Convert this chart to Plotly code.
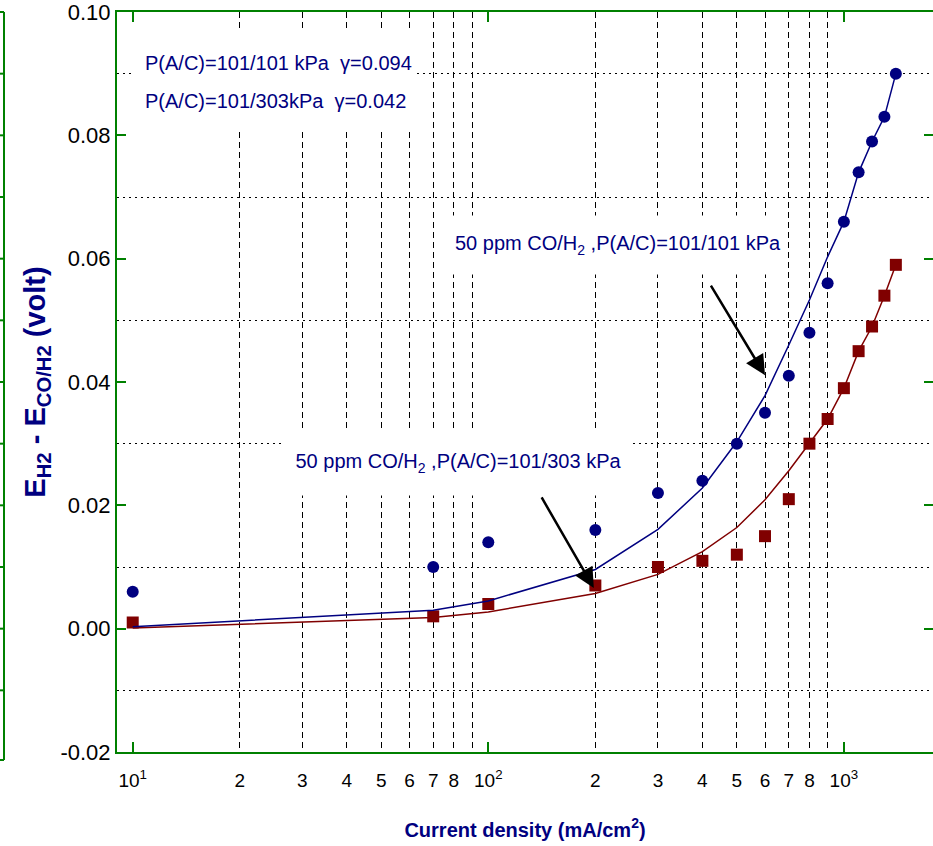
import math
import plotly.graph_objects as go

# Measured CO-poisoning overpotential vs current density
current_density = [10, 70, 100, 200, 300, 400, 500, 600, 700, 800, 900, 1000, 1100, 1200, 1300, 1400]
dE_101_101 = [0.006, 0.010, 0.014, 0.016, 0.022, 0.024, 0.030, 0.035, 0.041, 0.048,
              0.056, 0.066, 0.074, 0.079, 0.083, 0.090]
dE_101_303 = [0.001, 0.002, 0.004, 0.007, 0.010, 0.011, 0.012, 0.015, 0.021, 0.030,
              0.034, 0.039, 0.045, 0.049, 0.054, 0.059]
# Model curves evaluated at the same current densities
fit_101_101 = [0.0003, 0.0030, 0.0045, 0.0096, 0.0161, 0.0228, 0.0303, 0.0378, 0.0460, 0.0533,
               0.0603, 0.066, 0.074, 0.079, 0.083, 0.090]
fit_101_303 = [0.0001, 0.0018, 0.0027, 0.0057, 0.0088, 0.0125, 0.0164, 0.0209, 0.0256, 0.030,
               0.034, 0.039, 0.045, 0.049, 0.054, 0.059]

decades = [10, 100, 1000]
decade_labels = ["10<sup>1</sup>", "10<sup>2</sup>", "10<sup>3</sup>"]
minor_x = [m * d for d in (10, 100) for m in range(2, 10)]
labelled_minor_x = [m * d for d in (10, 100) for m in range(2, 9)]
labelled_minor_text = [str(m) for d in (10, 100) for m in range(2, 9)]
y_ticks = [-0.02, 0.00, 0.02, 0.04, 0.06, 0.08, 0.10]
y_tick_labels = ["-0.02", "0.00", "0.02", "0.04", "0.06", "0.08", "0.10"]
y_dotted = [-0.01, 0.01, 0.03, 0.05, 0.07, 0.09]

legend_lines = ["P(A/C)=101/101 kPa  \u03b3=0.094", "P(A/C)=101/303kPa  \u03b3=0.042"]
note_101 = "50 ppm CO/H<sub>2</sub> ,P(A/C)=101/101 kPa"
note_303 = "50 ppm CO/H<sub>2</sub> ,P(A/C)=101/303 kPa"

NAVY = "#000080"
MAROON = "#800000"
GREEN = "#008000"
FONT = "Liberation Sans, Arial, sans-serif"

W, H = 933, 846
ML, MR, MT, MB = 117, 0, 12, 94
x_lo, x_hi = 0.9558, 3.2506
y_lo, y_hi = -0.020001, 0.100001


def px_to_paper_x(p):
    return (p - ML) / (W - ML - MR)


def px_to_paper_y(p):
    return (H - MB - p) / (H - MT - MB)


fig = go.Figure()

fig.add_trace(go.Scatter(x=current_density, y=fit_101_101, mode="lines",
                         line=dict(color=NAVY, width=1.5), xaxis="x2", yaxis="y",
                         showlegend=False, hoverinfo="skip"))
fig.add_trace(go.Scatter(x=current_density, y=fit_101_303, mode="lines",
                         line=dict(color=MAROON, width=1.5), xaxis="x", yaxis="y2",
                         showlegend=False, hoverinfo="skip"))
fig.add_trace(go.Scatter(x=current_density, y=dE_101_101, mode="markers",
                         marker=dict(symbol="circle", size=12, color=NAVY),
                         showlegend=False))
fig.add_trace(go.Scatter(x=current_density, y=dE_101_303, mode="markers",
                         marker=dict(symbol="square", size=12, color=MAROON),
                         showlegend=False))

fig.update_layout(
    width=W, height=H,
    margin=dict(l=ML, r=MR, t=MT, b=MB, pad=0),
    paper_bgcolor="white", plot_bgcolor="white",
    font=dict(family=FONT, size=20, color="black"),
    xaxis=dict(
        type="log", range=[x_lo, x_hi],
        tickmode="array", tickvals=decades + labelled_minor_x,
        ticktext=decade_labels + labelled_minor_text,
        ticks="", showgrid=False, zeroline=False,
        showline=True, linecolor=GREEN, linewidth=2, mirror=True,
        ticklabelstandoff=10, tickfont=dict(size=19), ticklabeloverflow="allow",
        minor=dict(tickmode="array", tickvals=minor_x, ticks="", showgrid=True,
                   gridcolor="black", gridwidth=1, griddash="6px,4px"),
        title=dict(text="<b>Current density (mA/cm<sup>2</sup>)</b>",
                   font=dict(family=FONT, size=20, color=NAVY), standoff=33),
    ),
    xaxis2=dict(
        type="log", range=[x_lo, x_hi], overlaying="x", matches="x", anchor="y",
        tickmode="array", tickvals=decades, ticks="inside", ticklen=10, tickwidth=2,
        tickcolor=GREEN, showticklabels=False, showgrid=False, showline=False,
        mirror="ticks", zeroline=False,
    ),
    yaxis=dict(
        range=[y_lo, y_hi], tickmode="array", tickvals=y_ticks, ticktext=y_tick_labels,
        ticks="inside", ticklen=9, tickwidth=2, tickcolor=GREEN,
        showline=True, linecolor=GREEN, linewidth=2, mirror=False,
        showgrid=False, zeroline=False, ticklabelstandoff=0, tickfont=dict(size=22),
        ticklabeloverflow="allow",
        minor=dict(tickmode="array", tickvals=y_dotted, ticks="", showgrid=True,
                   gridcolor="black", gridwidth=1, griddash="2px,4px"),
        title=dict(text="<b>E<sub>H2</sub> - E<sub>CO/H2</sub> (volt)</b>",
                   font=dict(family=FONT, size=29, color=NAVY), standoff=6),
    ),
    yaxis2=dict(
        range=[y_lo, y_hi], overlaying="y", matches="y", side="right", anchor="x",
        tickmode="array", tickvals=y_ticks, ticks="inside", ticklen=9, tickwidth=2,
        tickcolor=GREEN, showticklabels=False, showgrid=False, showline=False,
        zeroline=False,
    ),
)

# White box behind the parameter list
shapes = [
    dict(type="rect", xref="paper", yref="paper", layer="above",
         x0=px_to_paper_x(133), x1=px_to_paper_x(415),
         y0=px_to_paper_y(128), y1=px_to_paper_y(30),
         fillcolor="white", line=dict(width=0)),
]

# Frame edge of the neighbouring panel at the far left
frame_x = px_to_paper_x(4)
shapes.append(dict(type="line", xref="paper", yref="paper", x0=frame_x, x1=frame_x,
                   y0=px_to_paper_y(760), y1=1.0, line=dict(color=GREEN, width=2)))
for yy in (px_to_paper_y(760), 1.0):
    shapes.append(dict(type="line", xref="paper", yref="paper", x0=px_to_paper_x(0),
                       x1=frame_x, y0=yy, y1=yy, line=dict(color=GREEN, width=2)))
for v in [0.09, 0.08, 0.07, 0.06, 0.05, 0.04, 0.03, 0.02, 0.01, 0.00, -0.01]:
    shapes.append(dict(type="line", xref="paper", yref="y", x0=px_to_paper_x(0),
                       x1=frame_x, y0=v, y1=v, line=dict(color=GREEN, width=2)))
fig.update_layout(shapes=shapes)

annotations = []
for i, line in enumerate(legend_lines):
    annotations.append(dict(text=line, xref="paper", yref="paper",
                            x=px_to_paper_x(143), y=px_to_paper_y(63 + 38 * i),
                            xanchor="left", yanchor="middle", showarrow=False,
                            font=dict(family=FONT, size=20, color=NAVY)))

annotations.append(dict(text=note_101, xref="x", yref="y",
                        x=math.log10(232), y=0.0622, xanchor="center", yanchor="middle",
                        showarrow=False, bgcolor="white", width=336, height=56,
                        font=dict(family=FONT, size=20, color=NAVY)))
annotations.append(dict(text=note_303, xref="x", yref="y",
                        x=math.log10(82.7), y=0.0269, xanchor="center", yanchor="middle",
                        showarrow=False, bgcolor="white", width=345, height=62,
                        font=dict(family=FONT, size=20, color=NAVY)))

# Arrows pointing at the two curves
annotations.append(dict(text="", xref="x", yref="y", x=math.log10(600), y=0.0411,
                        ax=-55, ay=-91, showarrow=True, arrowhead=2, arrowsize=1.6,
                        arrowwidth=2.5, arrowcolor="black", standoff=0))
annotations.append(dict(text="", xref="x", yref="y", x=math.log10(198), y=0.0066,
                        ax=-53, ay=-92, showarrow=True, arrowhead=2, arrowsize=1.6,
                        arrowwidth=2.5, arrowcolor="black", standoff=0))
fig.update_layout(annotations=annotations)

fig.write_html("out.html")
